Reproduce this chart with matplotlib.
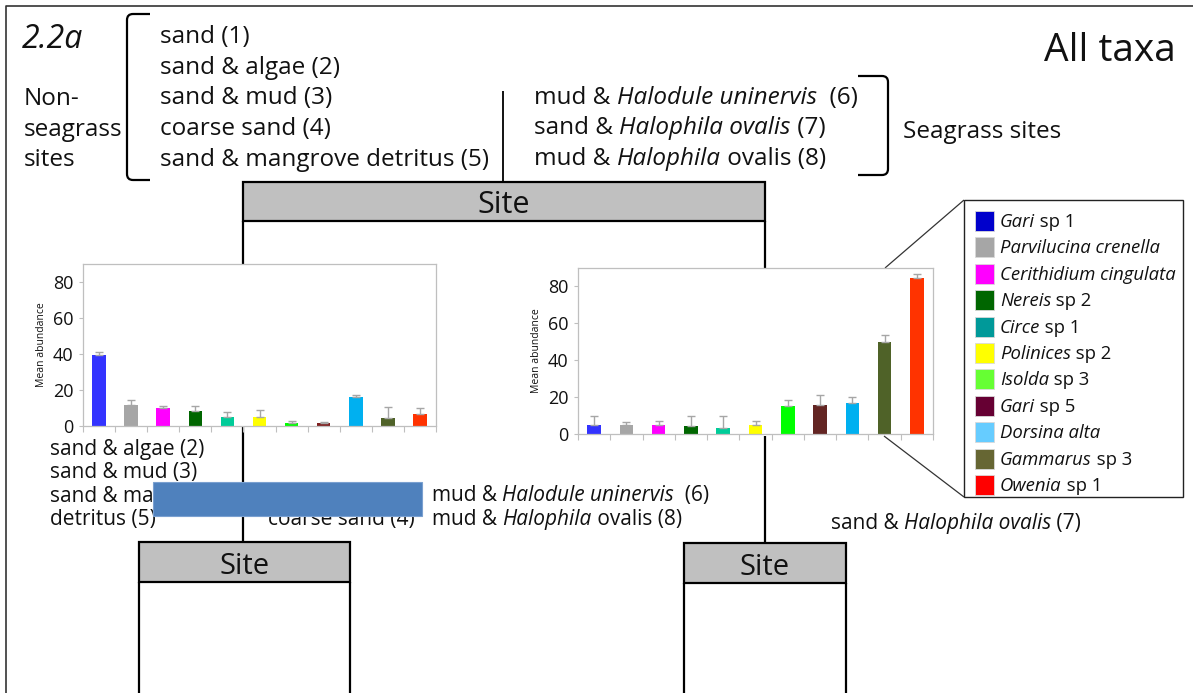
import matplotlib
matplotlib.use("Agg")
import matplotlib.pyplot as plt
from matplotlib.patches import Rectangle
from matplotlib.path import Path
from matplotlib.patches import PathPatch

plt.rcParams['font.family'] = ['Open Sans', 'DejaVu Sans']

# ---------------- data ----------------
taxa_parts = [
    [("Gari", True), (" sp 1", False)],
    [("Parvilucina crenella", True)],
    [("Cerithidium cingulata", True)],
    [("Nereis", True), (" sp 2", False)],
    [("Circe", True), (" sp 1", False)],
    [("Polinices", True), (" sp 2", False)],
    [("Isolda", True), (" sp 3", False)],
    [("Gari", True), (" sp 5", False)],
    [("Dorsina alta", True)],
    [("Gammarus", True), (" sp 3", False)],
    [("Owenia", True), (" sp 1", False)],
]
legend_colors = ['#0000cc', '#a6a6a6', '#ff00ff', '#006600', '#009999', '#ffff00',
                 '#66ff33', '#660033', '#66ccff', '#666633', '#ff0000']
left_colors = ['#3333ff', '#a6a6a6', '#ff00ff', '#006600', '#00cc99', '#ffff00',
               '#00ff00', '#7f2020', '#00b0f0', '#4f6228', '#ff3300']
right_colors = ['#3333ff', '#a6a6a6', '#ff00ff', '#006600', '#00cc99', '#ffff00',
                '#00ff00', '#632523', '#00b0f0', '#4f6228', '#ff3300']

left_means = [39.6, 11.8, 9.9, 8.2, 4.9, 4.9, 1.7, 1.7, 16.1, 4.7, 6.4]
left_err = [1.7, 2.6, 1.3, 2.8, 3.0, 4.1, 0.9, 0.7, 1.1, 5.8, 3.5]
right_means = [5.1, 5.1, 5.1, 4.2, 3.1, 5.1, 15.4, 15.9, 17.0, 50.0, 84.7]
right_err = [4.5, 1.6, 2.1, 5.4, 6.9, 2.1, 2.9, 5.3, 3.1, 3.6, 2.2]
yticks = [0, 20, 40, 60, 80]

nonseagrass_sites = ["sand (1)", "sand & algae (2)", "sand & mud (3)",
                     "coarse sand (4)", "sand & mangrove detritus (5)"]
seagrass_sites = [
    [("mud & ", False), ("Halodule uninervis", True), ("  (6)", False)],
    [("sand & ", False), ("Halophila ovalis", True), (" (7)", False)],
    [("mud & ", False), ("Halophila", True), (" ovalis (8)", False)],
]
group_left = ["sand & algae (2)", "sand & mud (3)", "sand & mangrove", "detritus (5)"]

# ---------------- figure ----------------
W, H = 1193, 693
fig = plt.figure(figsize=(W / 100, H / 100), dpi=100)
ax0 = fig.add_axes([0, 0, 1, 1])
ax0.set_xlim(0, W)
ax0.set_ylim(H, 0)
ax0.axis('off')
renderer = fig.canvas.get_renderer()
TXT = '#111111'


def adv(s, size, italic):
    t = ax0.text(0, 0, s + '|', fontsize=size, style='italic' if italic else 'normal')
    w1 = t.get_window_extent(renderer).width
    t.set_text('|')
    w2 = t.get_window_extent(renderer).width
    t.remove()
    return w1 - w2


def rich(x, y, parts, size, zorder=3):
    for s, it in parts:
        ax0.text(x, y, s, fontsize=size, style='italic' if it else 'normal',
                 ha='left', va='baseline', color=TXT, zorder=zorder)
        x += adv(s, size, it)


def line(xs, ys, lw=1.6, color='black', z=2):
    ax0.plot(xs, ys, color=color, lw=lw, solid_capstyle='butt', zorder=z)


# outer frame (top and left only)
line([6, 6, W], [H, 6, 6], lw=1.2, color='#333333')

# texts on top
ax0.text(22, 48, "2.2a", fontsize=23, style='italic', va='baseline', color=TXT)
ax0.text(1176, 61, "All taxa", fontsize=28, ha='right', va='baseline', color=TXT)
for i, s in enumerate(["Non-", "seagrass", "sites"]):
    ax0.text(24, 105 + 30.5 * i, s, fontsize=17.5, va='baseline', color=TXT)
for i, s in enumerate(nonseagrass_sites):
    ax0.text(160, 43 + 30.7 * i, s, fontsize=17.5, va='baseline', color=TXT)
for i, p in enumerate(seagrass_sites):
    rich(534, 104 + 30.5 * i, p, 17.5)
ax0.text(903, 138, "Seagrass sites", fontsize=17.5, va='baseline', color=TXT)


# brackets
def bracket(xo, xi, y0, y1, r=6):
    s = 1 if xi > xo else -1
    verts = [(xi, y0), (xo + s * r, y0), (xo, y0), (xo, y0 + r),
             (xo, y1 - r), (xo, y1), (xo + s * r, y1), (xi, y1)]
    codes = [Path.MOVETO, Path.LINETO, Path.CURVE3, Path.CURVE3,
             Path.LINETO, Path.CURVE3, Path.CURVE3, Path.LINETO]
    ax0.add_patch(PathPatch(Path(verts, codes), fill=False, lw=1.6, ec='black'))


bracket(127, 150, 14, 180)
bracket(888, 858, 76, 175)
line([503, 503], [91, 182], lw=1.3)


# Site boxes
def sitebox(x0, x1, y0, y1, baseline, size):
    ax0.add_patch(Rectangle((x0, y0), x1 - x0, y1 - y0, fc='#c0c0c0', ec='black', lw=1.6, zorder=4))
    ax0.text((x0 + x1) / 2, baseline, "Site", fontsize=size, ha='center', va='baseline',
             color=TXT, zorder=5)


sitebox(243, 765, 182, 221, 213, 22)
line([243, 243], [221, 264])
line([765, 765], [221, 268])

line([243, 243], [426, 542])
line([765, 765], [436, 543])
sitebox(139, 350, 542, 582, 574, 21)
sitebox(684, 846, 543, 583, 575, 21)
line([139, 139], [582, 693])
line([350, 350], [582, 693])
line([684, 684], [583, 693])
line([846, 846], [583, 693])

# lower labels
for i, s in enumerate(group_left):
    ax0.text(50, 455 + 23.3 * i, s, fontsize=15, va='baseline', color=TXT)
ax0.text(268, 525, "coarse sand (4)", fontsize=15, va='baseline', color=TXT)
rich(432, 501, [("mud & ", False), ("Halodule uninervis", True), ("  (6)", False)], 15)
rich(432, 525, [("mud & ", False), ("Halophila", True), (" ovalis (8)", False)], 15)
rich(831, 529, [("sand & ", False), ("Halophila ovalis", True), (" (7)", False)], 15)
ax0.add_patch(Rectangle((153, 482), 269, 34, fc='#4f81bd', ec='#7aa0d0', lw=0.8, zorder=6))

# legend box
lx0, ly0, lx1, ly1 = 964, 200, 1183, 497
ax0.add_patch(Rectangle((lx0, ly0), lx1 - lx0, ly1 - ly0, fc='white', ec='#222222', lw=1.0, zorder=3))
line([lx0, 885], [ly0, 268], lw=0.9, color='#333333')
line([lx0, 884], [ly1, 436], lw=0.9, color='#333333')
for i, (parts, c) in enumerate(zip(taxa_parts, legend_colors)):
    yc = 221 + 26.4 * i
    ax0.add_patch(Rectangle((975, yc - 10), 19, 20, fc=c, ec='#d9d9d9', lw=0.6, zorder=4))
    rich(1000, yc + 6, parts, 13.3, zorder=5)


# ---------------- bar charts ----------------
def px_axes(x0, y0, x1, y1):
    return fig.add_axes([x0 / W, 1 - y1 / H, (x1 - x0) / W, (y1 - y0) / H])


def barchart(ax, means, errs, colors):
    x = list(range(len(means)))
    ax.bar(x, means, width=0.42, color=colors, zorder=2)
    ax.errorbar(x, means, yerr=[[0] * len(errs), errs], fmt='none', ecolor='#a6a6a6',
                elinewidth=1.0, capsize=3, capthick=1.0, zorder=3)
    ax.set_xlim(-0.5, len(means) - 0.5)
    ax.set_ylim(0, 90)
    ax.set_yticks(yticks)
    ax.set_yticklabels([str(v) for v in yticks], fontsize=13, color=TXT)
    ax.set_xticks([i - 0.5 for i in range(len(means) + 1)])
    ax.set_xticklabels([])
    ax.tick_params(axis='x', direction='out', length=4, color='#bfbfbf', width=0.8)
    ax.tick_params(axis='y', direction='out', length=3, color='#bfbfbf', width=0.8, pad=4)
    for sp in ax.spines.values():
        sp.set_color('#bfbfbf')
        sp.set_linewidth(0.9)
    ax.set_ylabel("Mean abundance", fontsize=7.5, color=TXT, labelpad=4)


axL = px_axes(83, 264, 436, 426)
barchart(axL, left_means, left_err, left_colors)
axR = px_axes(578, 268, 933, 434)
barchart(axR, right_means, right_err, right_colors)

fig.savefig("out.png", dpi=100)
